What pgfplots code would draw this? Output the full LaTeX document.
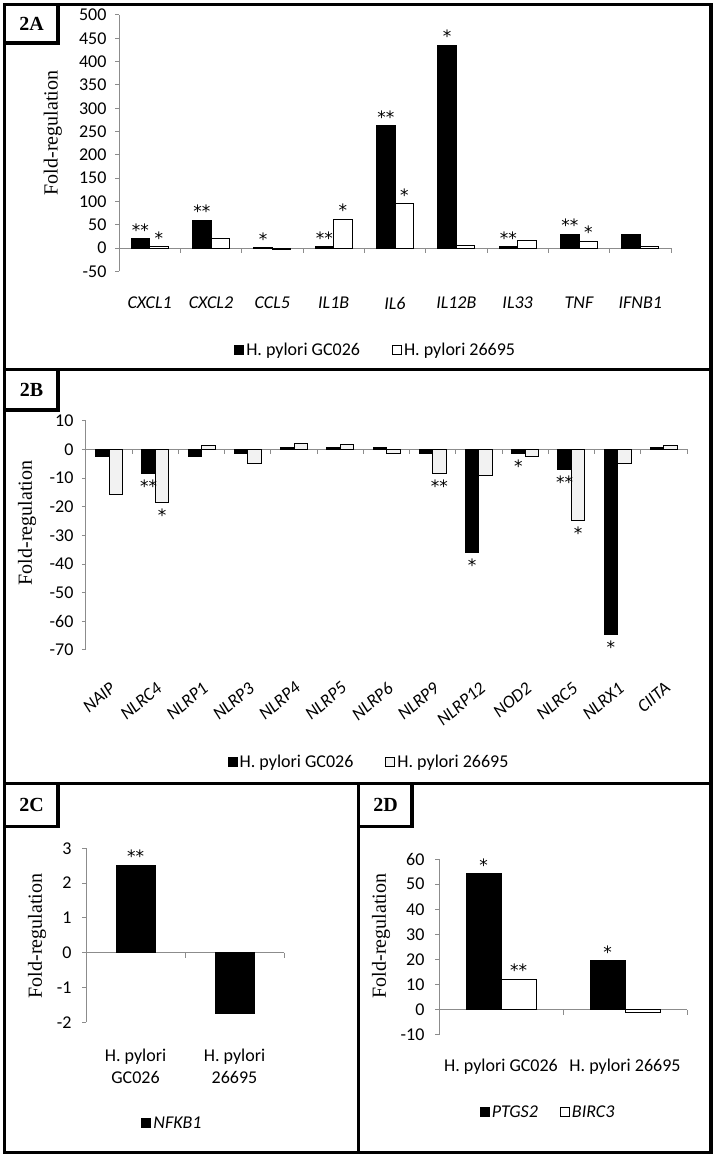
\documentclass[border=0pt]{standalone}
\usepackage{pgfplots}
\pgfplotsset{compat=1.18}
\usepackage{pgfplotstable}
\usepackage{graphicx}
\usepackage{fontspec}
\setmainfont{Liberation Serif}
\newfontfamily\calfont{Carlito}
\newfontfamily\starfont{DejaVu Sans}
\definecolor{axgray}{RGB}{140,140,140}
\definecolor{lightbar}{RGB}{242,242,242}

\pgfplotstableread{
x g w gs ws
1 20.7 2.9 ** *
2 59.4 20.7 ** {}
3 1.0 -2.5 * {}
4 2.9 62 ** *
5 262.4 95 ** *
6 435.6 5 * {}
7 3 15.7 ** {}
8 30 15 ** *
9 30 3 {} {}
}\dataA

\pgfplotstableread{
x g w gs ws
1 -2.6 -15.9 {} {}
2 -8.4 -18.4 ** *
3 -2.6 1.2 {} {}
4 -1.6 -4.9 {} {}
5 0.6 2.1 {} {}
6 0.6 1.6 {} {}
7 0.7 -1.5 {} {}
8 -1.6 -8.3 {} **
9 -36 -9.2 * {}
10 -1.5 -2.4 * {}
11 -6.9 -24.7 ** *
12 -64.7 -4.9 * {}
13 0.5 1.2 {} {}
}\dataB

\pgfplotstableread{
x v s
1 2.52 **
2 -1.74 {}
}\dataC

\pgfplotstableread{
x p b ps bs
1 54.2 12.2 * **
2 19.5 -1.06 * {}
}\dataD

\newcommand{\sfnt}{\calfont\fontsize{18}{21}\selectfont}

\pgfplotsset{
  panel/.style={
    scale only axis, clip=false,
    axis x line*=bottom, axis y line*=left,
    x axis line style={draw=none},
    y axis line style={draw=axgray, line width=1pt, -},
    xtick style={draw=none},
    ytick style={draw=axgray, line width=1pt},
    ytick align=outside, xtick align=inside, major tick length=4pt,
    tick label style={font=\sfnt},
    yticklabel style={xshift=-5pt},
    /pgf/number format/assume math mode=true,
    xtick=data,
    ybar=0pt,
    nodes near coords,
    point meta=explicit symbolic,
    every node near coord/.append style={font=\starfont\fontsize{17}{19}\selectfont, inner sep=2pt},
    legend style={draw=none, fill=none, font=\sfnt, legend columns=-1,
      /tikz/every even column/.append style={column sep=30pt}},
    legend cell align=left,
    legend image code/.code={\draw[##1, line width=1pt] (0pt,-4.5pt) rectangle (9pt,4.5pt);},
    ylabel={Fold-regulation},
    every axis y label/.style={rotate=90, anchor=center, font=\fontsize{20}{22}\selectfont},
  },
  blk/.style={fill=black, draw=black, line width=1pt},
  wht/.style={fill=white, draw=black, line width=1pt},
  lgt/.style={fill=lightbar, draw=black, line width=1pt},
}

\begin{document}
\begin{tikzpicture}
\path[use as bounding box] (0pt,0pt) rectangle (718pt,1156pt);

% ---------------- 2A ----------------
\begin{axis}[panel,
  at={(119pt,884.5pt)}, anchor=south west,
  width=552pt, height=256.5pt,
  xmin=0.5, xmax=9.5, ymin=-50, ymax=500,
  ytick={-50,0,50,...,500},
  bar width=18.5pt,
  xticklabels={CXCL1,CXCL2,CCL5,IL1B,IL6,IL12B,IL33,TNF,IFNB1},
  xticklabel style={font=\sfnt\itshape, anchor=center, yshift=-27.5pt},
  ylabel style={at={(axis description cs:-0.12,0.54)}},
  legend style={at={(axis description cs:0.465,-0.306)}, anchor=center},
]
\draw[axgray, line width=1pt] (axis cs:0.5,0) -- (axis cs:9.5,0);
\pgfplotsinvokeforeach{1.5,2.5,...,9.5}{\draw[axgray, line width=1pt] (axis cs:#1,0) -- ++(0pt,-5pt);}
\addplot[blk] table[x=x, y=g, meta=gs] {\dataA};
\addplot[wht] table[x=x, y=w, meta=ws] {\dataA};
\legend{H. pylori GC026, H. pylori 26695}
\end{axis}

% ---------------- 2B ----------------
\begin{axis}[panel,
  at={(86pt,506pt)}, anchor=south west,
  width=601pt, height=229.3pt,
  xmin=0.5, xmax=13.5, ymin=-70, ymax=10,
  ytick={-70,-60,...,10},
  bar width=13.5pt,
  every node near coord/.append style={anchor=north, yshift=-4pt},
  xticklabels={NAIP,NLRC4,NLRP1,NLRP3,NLRP4,NLRP5,NLRP6,NLRP9,NLRP12,NOD2,NLRC5,NLRX1,CIITA},
  xticklabel style={font=\sfnt\itshape, yshift=-27pt, rotate=40, anchor=north east, inner sep=0pt},
  ylabel style={at={(axis description cs:-0.098,0.554)}},
  legend style={at={(axis description cs:0.471,-0.488)}, anchor=center},
]
\draw[axgray, line width=1pt] (axis cs:0.5,0) -- (axis cs:13.5,0);
\pgfplotsinvokeforeach{1.5,2.5,...,13.5}{\draw[axgray, line width=1pt] (axis cs:#1,0) -- ++(0pt,-5pt);}
\addplot[blk] table[x=x, y=g, meta=gs] {\dataB};
\addplot[lgt] table[x=x, y=w, meta=ws] {\dataB};
\legend{H. pylori GC026, H. pylori 26695}
\end{axis}

% ---------------- 2C ----------------
\begin{axis}[panel,
  at={(86pt,133.7pt)}, anchor=south west,
  width=198pt, height=174pt,
  xmin=0.5, xmax=2.5, ymin=-2, ymax=3,
  ytick={-2,-1,...,3},
  yticklabel style={xshift=-2pt},
  bar width=39pt,
  xticklabels={{H. pylori\\GC026},{H. pylori\\26695}},
  xticklabel style={font=\calfont\fontsize{18}{22}\selectfont, align=center, anchor=north, yshift=-19pt},
  ylabel style={at={(axis description cs:-0.247,0.496)}},
  legend style={at={(axis description cs:0.437,-0.579)}, anchor=center, font=\sfnt\itshape},
]
\draw[axgray, line width=1pt] (axis cs:0.5,0) -- (axis cs:2.5,0);
\pgfplotsinvokeforeach{1.5,2.5}{\draw[axgray, line width=1pt] (axis cs:#1,0) -- ++(0pt,-5pt);}
\addplot[blk] table[x=x, y=v, meta=s] {\dataC};
\legend{NFKB1}
\end{axis}

% ---------------- 2D ----------------
\begin{axis}[panel,
  at={(439pt,121pt)}, anchor=south west,
  width=248pt, height=176pt,
  xmin=0.5, xmax=2.5, ymin=-10, ymax=60,
  ytick={-10,0,...,60},
  yticklabel style={xshift=-2pt},
  bar width=35pt,
  xticklabels={H. pylori GC026, H. pylori 26695},
  xticklabel style={anchor=center, yshift=-28pt},
  ylabel style={at={(axis description cs:-0.234,0.563)}},
  legend style={at={(axis description cs:0.44,-0.4375)}, anchor=center, font=\sfnt\itshape,
    /tikz/every even column/.append style={column sep=20pt}},
]
\draw[axgray, line width=1pt] (axis cs:0.5,0) -- (axis cs:2.5,0);
\pgfplotsinvokeforeach{1.5,2.5}{\draw[axgray, line width=1pt] (axis cs:#1,0) -- ++(0pt,-5pt);}
\addplot[blk] table[x=x, y=p, meta=ps] {\dataD};
\addplot[wht] table[x=x, y=b, meta=bs] {\dataD};
\legend{PTGS2, BIRC3}
\end{axis}

% ---------------- frames ----------------
\begin{scope}[line width=3.2pt]
\draw (4.5pt,3.5pt) rectangle (711pt,1151.5pt);
\draw (4.5pt,786.5pt) -- (711pt,786.5pt);
\draw (4.5pt,372.5pt) -- (711pt,372.5pt);
\draw (358.5pt,372.5pt) -- (358.5pt,3.5pt);
\draw (4.5pt,1151.5pt) rectangle (58pt,1113pt);
\draw (4.5pt,786.5pt) rectangle (58pt,746pt);
\draw (4.5pt,372.5pt) rectangle (58pt,329.5pt);
\draw (358.5pt,372.5pt) rectangle (412pt,329.5pt);
\end{scope}
\begin{scope}[every node/.style={font=\bfseries\fontsize{20}{22}\selectfont}]
\node at (31.5pt,1132pt) {2A};
\node at (31.5pt,766pt) {2B};
\node at (31.5pt,351pt) {2C};
\node at (385.5pt,351pt) {2D};
\end{scope}
\end{tikzpicture}
\end{document}
